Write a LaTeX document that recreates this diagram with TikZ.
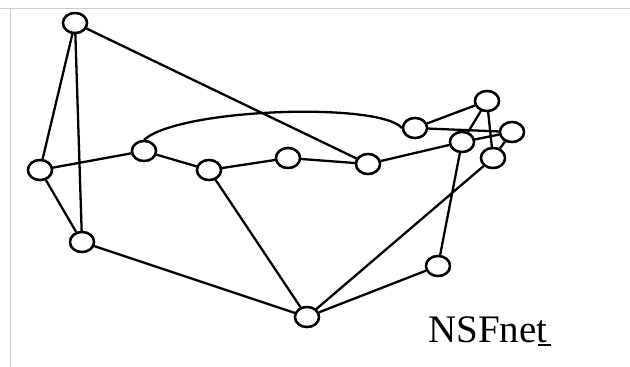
\documentclass[tikz,border=0pt]{standalone}
\usepackage{fontspec}
\setmainfont{Liberation Serif}
\usetikzlibrary{shapes.geometric}
\begin{document}
\begin{tikzpicture}[x=1pt,y=-1pt,
  router/.style={ellipse,draw=black,line width=2.4pt,fill=white,minimum width=24pt,minimum height=20pt,inner sep=0pt},
  link/.style={draw=black,line width=2.3pt},
  frame/.style={draw=black!20,line width=1pt}]
\useasboundingbox (0,0) rectangle (630,367);
\draw[frame] (0,8.5) -- (630,8.5);
\draw[frame] (10.5,8.5) -- (10.5,367);
% nodes
\node[router] (n1) at (75,23) {};
\node[router] (n2) at (40,170) {};
\node[router] (n3) at (82,242) {};
\node[router] (n4) at (144,151) {};
\node[router] (n5) at (209,170) {};
\node[router] (n6) at (288,158) {};
\node[router] (n7) at (368,164) {};
\node[router] (n8) at (415,128) {};
\node[router] (n9) at (487,101) {};
\node[router] (n10) at (512,132) {};
\node[router] (n11) at (462,142) {};
\node[router] (n12) at (493,158) {};
\node[router] (n13) at (438,266) {};
\node[router] (n14) at (307,317) {};
% links
\path[link]
  (n1) -- (n2)
  (n1) -- (n3)
  (n1) -- (n7)
  (n2) -- (n3)
  (n2) -- (n4)
  (n4) -- (n5)
  (n5) -- (n6)
  (n6) -- (n7)
  (n7) -- (n11)
  (n5) -- (n14)
  (n3) -- (n14)
  (n14) -- (n13)
  (n14) -- (n12)
  (n13) -- (n11)
  (n8) -- (n9)
  (n8) -- (n10)
  (n9) -- (n11)
  (n9) -- (n12)
  (n11) -- (n10)
  (n12) -- (n10);
\draw[link] (n4.north) .. controls (180,108) and (380,102) .. (n8.west);
% redraw nodes on top
\foreach \n in {n1,n2,n3,n4,n5,n6,n7,n8,n9,n10,n11,n12,n13,n14}{
  \node[router] at (\n) {};
}
\node[anchor=base west,inner sep=0pt,font=\fontsize{39}{42}\selectfont] (lbl) at (428,342) {NSFnet};
\draw[line width=1.5pt] ([xshift=-10pt,yshift=-3pt]lbl.base east) -- ([xshift=3pt,yshift=-3pt]lbl.base east);
\end{tikzpicture}
\end{document}
